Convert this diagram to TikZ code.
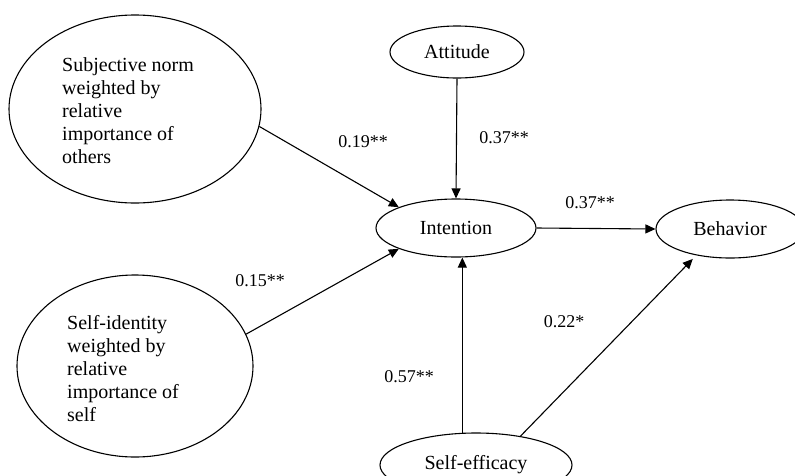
\documentclass[tikz,border=0pt]{standalone}
\usepackage{fontspec}
\setmainfont{Liberation Serif}
\usetikzlibrary{shapes.geometric,arrows.meta}
\tikzset{
  oval/.style={draw, ellipse, line width=1.1pt, inner sep=0pt},
  nodetext/.style={font=\fontsize{20}{23}\selectfont, inner sep=0pt},
  blocktext/.style={font=\fontsize{20}{23}\selectfont, inner sep=0pt, align=left, anchor=west},
  coef/.style={font=\fontsize{18}{21}\selectfont, inner sep=0pt},
  arr/.style={line width=1.1pt, -{Triangle[length=10pt,width=9pt]}}
}
\begin{document}
\begin{tikzpicture}[x=1pt,y=-1pt]
\useasboundingbox (0,0) rectangle (795,475);
\clip (0,0) rectangle (795,475);
% ellipses
\node[oval, minimum width=252pt, minimum height=188pt] (sn) at (135,109) {};
\node[blocktext] (snt) at (62,111) {Subjective norm\\weighted by\\relative\\importance of\\others};
\node[oval, minimum width=236pt, minimum height=182pt] (si) at (135,366) {};
\node[blocktext] (sit) at (67,369) {Self-identity\\weighted by\\relative\\importance of\\self};
\node[oval, minimum width=134pt, minimum height=52pt, nodetext] (att) at (457,52) {Attitude};
\node[oval, minimum width=160pt, minimum height=58pt, nodetext] (int) at (456,228) {Intention};
\node[oval, minimum width=148pt, minimum height=58pt, nodetext] (beh) at (730,229) {Behavior};
\node[oval, minimum width=192pt, minimum height=64pt, nodetext] (se) at (476,465) {Self-efficacy};
% arrows
\draw[arr] (sn.-8) -- (int.160);
\draw[arr] (si.16) -- (int.200);
\draw[arr] (att.south) -- (int.north);
\draw[arr] (int.east) -- (beh.west);
\draw[arr] (se.113) -- (se.113 |- int.south);
\draw[arr, shorten >=5pt] (se.33) -- (beh.218);
% coefficients
\node[coef] (c1) at (363,142) {0.19**};
\node[coef] (c2) at (504,138) {0.37**};
\node[coef] (c3) at (590,203) {0.37**};
\node[coef] (c4) at (260,281) {0.15**};
\node[coef] (c5) at (564,322) {0.22*};
\node[coef] (c6) at (409,377) {0.57**};
\end{tikzpicture}
\end{document}
